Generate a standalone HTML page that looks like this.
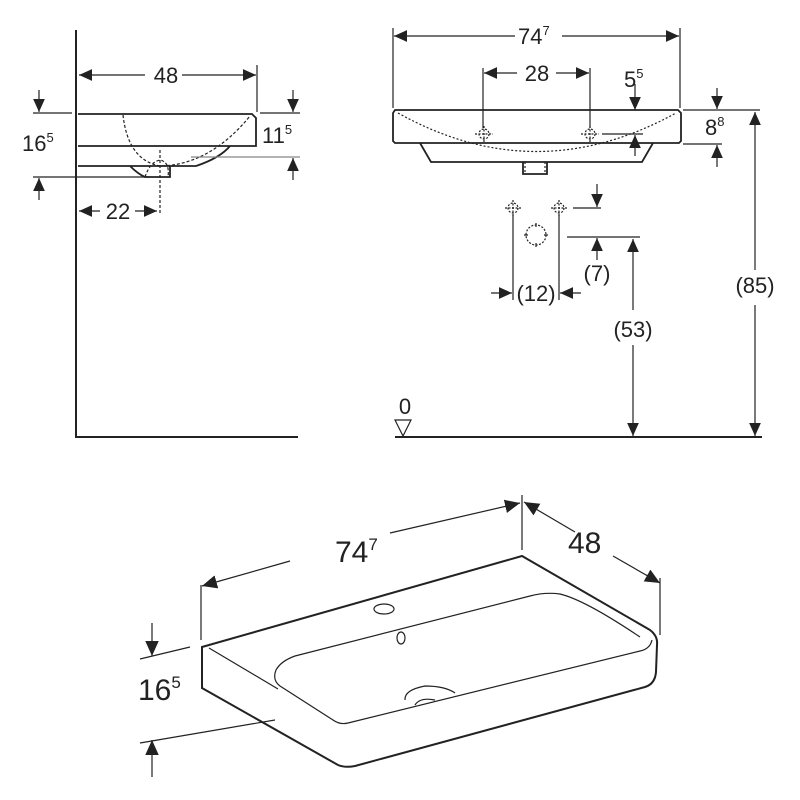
<!DOCTYPE html><html><head><style>body{margin:0;background:#fff}svg{display:block}text{font-family:"Liberation Sans",sans-serif;fill:#222}</style></head><body>
<svg width="800" height="800" viewBox="0 0 800 800" xmlns="http://www.w3.org/2000/svg">
<defs><marker id="a" viewBox="0 0 10 10" refX="10" refY="5" markerWidth="13" markerHeight="13" markerUnits="userSpaceOnUse" orient="auto-start-reverse"><path d="M0,0.5L10,5L0,9.5z" fill="#222"/></marker>
<marker id="b" viewBox="0 0 10 10" refX="10" refY="5" markerWidth="15" markerHeight="15" markerUnits="userSpaceOnUse" orient="auto-start-reverse"><path d="M0,0.5L10,5L0,9.5z" fill="#222"/></marker></defs>
<g stroke="#222" fill="none" stroke-width="1.2">
<!-- left view -->
<path d="M76,30V437H298" stroke-width="2"/>
<path d="M78,114H252L256,118V146H78M78,166H196Q220,158 230,146M130,166Q138,174 145,177H170V166" stroke-width="1.8"/>
<path d="M123,115Q128,160 160,166Q210,165 250,116M145,177Q150,162 160,160Q170,162 168,177M160,150V215" stroke-dasharray="3,2"/>
<path d="M191,157H300" stroke="#888"/>
<line x1="79" y1="75" x2="145" y2="75" marker-start="url(#a)"/><line x1="182" y1="75" x2="256" y2="75" marker-end="url(#a)"/>
<line x1="257" y1="65" x2="257" y2="112"/>
<path d="M33,113H72M33,177H150M260,113H300"/>
<line x1="39" y1="90" x2="39" y2="112" marker-end="url(#a)"/><line x1="39" y1="200" x2="39" y2="178" marker-end="url(#a)"/>
<line x1="293" y1="90" x2="293" y2="112" marker-end="url(#a)"/><line x1="293" y1="180" x2="293" y2="158" marker-end="url(#a)"/>
<line x1="79" y1="211" x2="100" y2="211" marker-start="url(#a)"/><line x1="135" y1="211" x2="157" y2="211" marker-end="url(#a)"/>
<!-- right front view -->
<line x1="394" y1="36" x2="515" y2="36" marker-start="url(#a)"/><line x1="562" y1="36" x2="679" y2="36" marker-end="url(#a)"/>
<path d="M393,28V108M680,28V108"/>
<path d="M395,110H678L681,113V141L679,143H395L393,141V113Z M420,143L431,162H642L653,143M523,162V174H547V162" stroke-width="1.8"/>
<path d="M398,113Q536,190 676,113M525,162V174M545,162V174" stroke-dasharray="2,2"/>
<line x1="484" y1="73" x2="517" y2="73" marker-start="url(#a)"/><line x1="556" y1="73" x2="589" y2="73" marker-end="url(#a)"/>
<path d="M483,68V128M590,68V128M602,134H643"/>
<g stroke-dasharray="2,1.5"><circle cx="484" cy="134" r="5"/><path d="M475,134H493M484,126V142"/><circle cx="590" cy="134" r="5"/><path d="M581,134H599M590,126V142"/>
<circle cx="513" cy="208" r="5"/><path d="M505,208H521M513,200V216"/><circle cx="559" cy="208" r="5"/><path d="M551,208H567M559,200V216"/><circle cx="536" cy="235" r="10"/></g>
<path d="M536,223V227M536,243V247M524,235H528M544,235H548"/>
<line x1="635" y1="84" x2="635" y2="110" marker-end="url(#a)"/><line x1="635" y1="156" x2="635" y2="135" marker-end="url(#a)"/>
<path d="M683,110H760M683,144H722"/>
<line x1="717" y1="88" x2="717" y2="109" marker-end="url(#a)"/><line x1="717" y1="167" x2="717" y2="145" marker-end="url(#a)"/>
<line x1="755" y1="270" x2="755" y2="112" marker-end="url(#a)"/><line x1="755" y1="305" x2="755" y2="436" marker-end="url(#a)"/>
<path d="M395,437H762" stroke-width="2"/>
<path d="M395,420H411L403,436Z"/>
<path d="M513,215V300M559,215V300M573,208H601M567,237H640"/>
<line x1="491" y1="293" x2="512" y2="293" marker-end="url(#a)"/><line x1="581" y1="293" x2="560" y2="293" marker-end="url(#a)"/>
<line x1="597" y1="184" x2="597" y2="207" marker-end="url(#a)"/><line x1="597" y1="260" x2="597" y2="238" marker-end="url(#a)"/>
<line x1="633" y1="310" x2="633" y2="239" marker-end="url(#a)"/><line x1="633" y1="345" x2="633" y2="436" marker-end="url(#a)"/>
<!-- iso view -->
<path d="M202,647L522,556L650,630Q658,636 657,645L656,672Q655,684 645,687L355,766Q345,768 338,765L202,688Z" stroke-width="2"/>
<path d="M209,648L278,689M652,640Q650,649 640,651L348,723Q340,725 333,720L280,686Q272,680 276,670Q281,661 295,656L530,596Q545,592 560,594Q585,600 640,637"/>
<ellipse cx="384" cy="609" rx="10" ry="5"/><ellipse cx="401" cy="638" rx="4" ry="6"/>
<path d="M405,700Q404,690 425,686Q445,686 455,693M415,705Q420,697 435,700"/>
<path d="M201,585V640M522,495V550M660,578V635M190,647L140,659M275,720L140,743"/>
<line x1="290" y1="561" x2="202" y2="586" marker-end="url(#b)"/><line x1="390" y1="533" x2="520" y2="503" marker-end="url(#b)"/>
<line x1="524" y1="502" x2="575" y2="532" marker-start="url(#b)"/><line x1="613" y1="556" x2="660" y2="583" marker-end="url(#b)"/>
<line x1="152" y1="623" x2="152" y2="656" marker-end="url(#b)"/><line x1="152" y1="777" x2="152" y2="740" marker-end="url(#b)"/>
</g>
<g font-size="22">
<text x="166" y="83" text-anchor="middle">48</text>
<text x="22" y="151">16<tspan font-size="13" dy="-9">5</tspan></text>
<text x="262" y="143">11<tspan font-size="13" dy="-9">5</tspan></text>
<text x="118" y="219" text-anchor="middle">22</text>
<text x="518" y="44">74<tspan font-size="13" dy="-9">7</tspan></text>
<text x="537" y="81" text-anchor="middle">28</text>
<text x="624" y="87">5<tspan font-size="13" dy="-9">5</tspan></text>
<text x="705" y="135">8<tspan font-size="13" dy="-9">8</tspan></text>
<text x="536" y="301" text-anchor="middle">(12)</text>
<text x="597" y="281" text-anchor="middle">(7)</text>
<text x="633" y="337" text-anchor="middle">(53)</text>
<text x="755" y="293" text-anchor="middle">(85)</text>
<text x="405" y="414" text-anchor="middle">0</text>
</g>
<g font-size="30">
<text x="335" y="562">74<tspan font-size="17" dy="-12">7</tspan></text>
<text x="568" y="553">48</text>
<text x="138" y="700">16<tspan font-size="17" dy="-12">5</tspan></text>
</g>
</svg></body></html>
